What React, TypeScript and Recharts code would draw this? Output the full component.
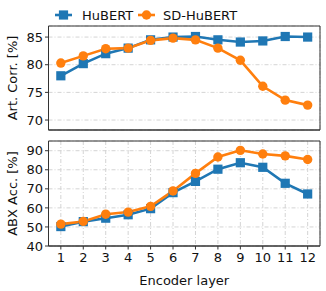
import { LineChart, Line, XAxis, YAxis, CartesianGrid, ReferenceArea } from 'recharts'

const layers = [1, 2, 3, 4, 5, 6, 7, 8, 9, 10, 11, 12]
const hubertCorr = [78.0, 80.2, 82.0, 83.0, 84.5, 85.0, 85.1, 84.5, 84.1, 84.3, 85.1, 85.0]
const sdHubertCorr = [80.3, 81.6, 82.9, 83.0, 84.4, 84.8, 84.5, 83.0, 80.8, 76.1, 73.6, 72.7]
const hubertAbx = [50.2, 52.8, 54.6, 56.4, 59.6, 68.0, 73.9, 80.3, 83.7, 81.3, 72.9, 67.3]
const sdHubertAbx = [51.5, 52.9, 56.7, 57.8, 60.8, 68.9, 78.1, 86.7, 90.2, 88.3, 87.3, 85.4]
const corrTicks = [70, 75, 80, 85]
const abxTicks = [40, 50, 60, 70, 80, 90]

const BLUE = '#1f77b4'
const ORANGE = '#ff7f0e'
const FRAME = '#333333'
const GRID = '#d4d4d4'
const FONT = 'DejaVu Sans, sans-serif'
const X_DOMAIN: [number, number] = [0.45, 12.55]
const CORR_DOMAIN: [number, number] = [68.2, 87.0]
const ABX_DOMAIN: [number, number] = [40, 95.1]

const corrData = layers.map((l, i) => ({ layer: l, hubert: hubertCorr[i], sd: sdHubertCorr[i] }))
const abxData = layers.map((l, i) => ({ layer: l, hubert: hubertAbx[i], sd: sdHubertAbx[i] }))

const tickStyle = { fontSize: 13, fill: '#111', fontFamily: FONT }

const SquareDot = (props: any) => {
  const { cx, cy } = props
  if (cx == null || cy == null) return null
  return <rect key={`s-${cx}`} x={cx - 4.6} y={cy - 4.6} width={9.2} height={9.2} fill={BLUE} />
}

const CircleDot = (props: any) => {
  const { cx, cy } = props
  if (cx == null || cy == null) return null
  return <circle key={`c-${cx}`} cx={cx} cy={cy} r={4.7} fill={ORANGE} />
}

const yLabel = (text: string) => (props: any) => {
  const vb = props.viewBox
  const cy = vb.y + vb.height / 2
  return (
    <text x={12} y={cy} transform={`rotate(-90 12 ${cy})`} textAnchor="middle" dominantBaseline="central" fontSize={13} fontFamily={FONT} fill="#111">
      {text}
    </text>
  )
}

const Panel = ({ data, domain, ticks, label, bottom }: any) => (
  <LineChart
    width={326}
    height={bottom ? 156 : 140}
    data={data}
    margin={{ top: bottom ? 6 : 26, right: 6, left: 0, bottom: 0 }}
  >
    <CartesianGrid stroke={GRID} strokeDasharray="4 2 1 2" />
    <XAxis
      dataKey="layer"
      type="number"
      domain={X_DOMAIN}
      ticks={layers}
      interval={0}
      allowDataOverflow
      height={bottom ? 45 : 10}
      tick={bottom ? tickStyle : false}
      tickSize={3.5}
      tickMargin={3}
      tickLine={{ stroke: FRAME }}
      axisLine={{ stroke: FRAME }}
      label={bottom ? { value: 'Encoder layer', position: 'insideBottom', offset: 6, style: tickStyle } : undefined}
    />
    <YAxis
      type="number"
      domain={domain}
      ticks={ticks}
      interval={0}
      allowDataOverflow
      width={48.5}
      tick={tickStyle}
      tickSize={3.5}
      tickMargin={2}
      tickLine={{ stroke: FRAME }}
      axisLine={{ stroke: FRAME }}
      label={{ content: yLabel(label) }}
    />
    <ReferenceArea x1={X_DOMAIN[0]} x2={X_DOMAIN[1]} y1={domain[0]} y2={domain[1]} fill="none" stroke={FRAME} strokeWidth={1} ifOverflow="visible" />
    <Line dataKey="hubert" stroke={BLUE} strokeWidth={2.6} dot={<SquareDot />} isAnimationActive={false} />
    <Line dataKey="sd" stroke={ORANGE} strokeWidth={2.6} dot={<CircleDot />} isAnimationActive={false} />
  </LineChart>
)

export default function App() {
  return (
    <div style={{ position: 'absolute', left: 0, top: 0, width: 326, height: 291, background: '#fff', fontFamily: FONT }}>
      <svg width={326} height={26} style={{ position: 'absolute', left: 0, top: 0 }}>
        <line x1={55} y1={15} x2={72} y2={15} stroke={BLUE} strokeWidth={2.6} />
        <rect x={63.5 - 4.6} y={15 - 4.6} width={9.2} height={9.2} fill={BLUE} />
        <text x={82} y={15} dominantBaseline="central" fontSize={13} fontFamily={FONT} fill="#111">HuBERT</text>
        <line x1={138} y1={15} x2={155} y2={15} stroke={ORANGE} strokeWidth={2.6} />
        <circle cx={146.5} cy={15} r={4.7} fill={ORANGE} />
        <text x={163} y={15} dominantBaseline="central" fontSize={13} fontFamily={FONT} fill="#111">SD-HuBERT</text>
      </svg>
      <div style={{ position: 'absolute', left: 0, top: 0 }}>
        <Panel data={corrData} domain={CORR_DOMAIN} ticks={corrTicks} label="Art. Corr. [%]" />
      </div>
      <div style={{ position: 'absolute', left: 0, top: 135 }}>
        <Panel data={abxData} domain={ABX_DOMAIN} ticks={abxTicks} label="ABX Acc. [%]" bottom />
      </div>
    </div>
  )
}
